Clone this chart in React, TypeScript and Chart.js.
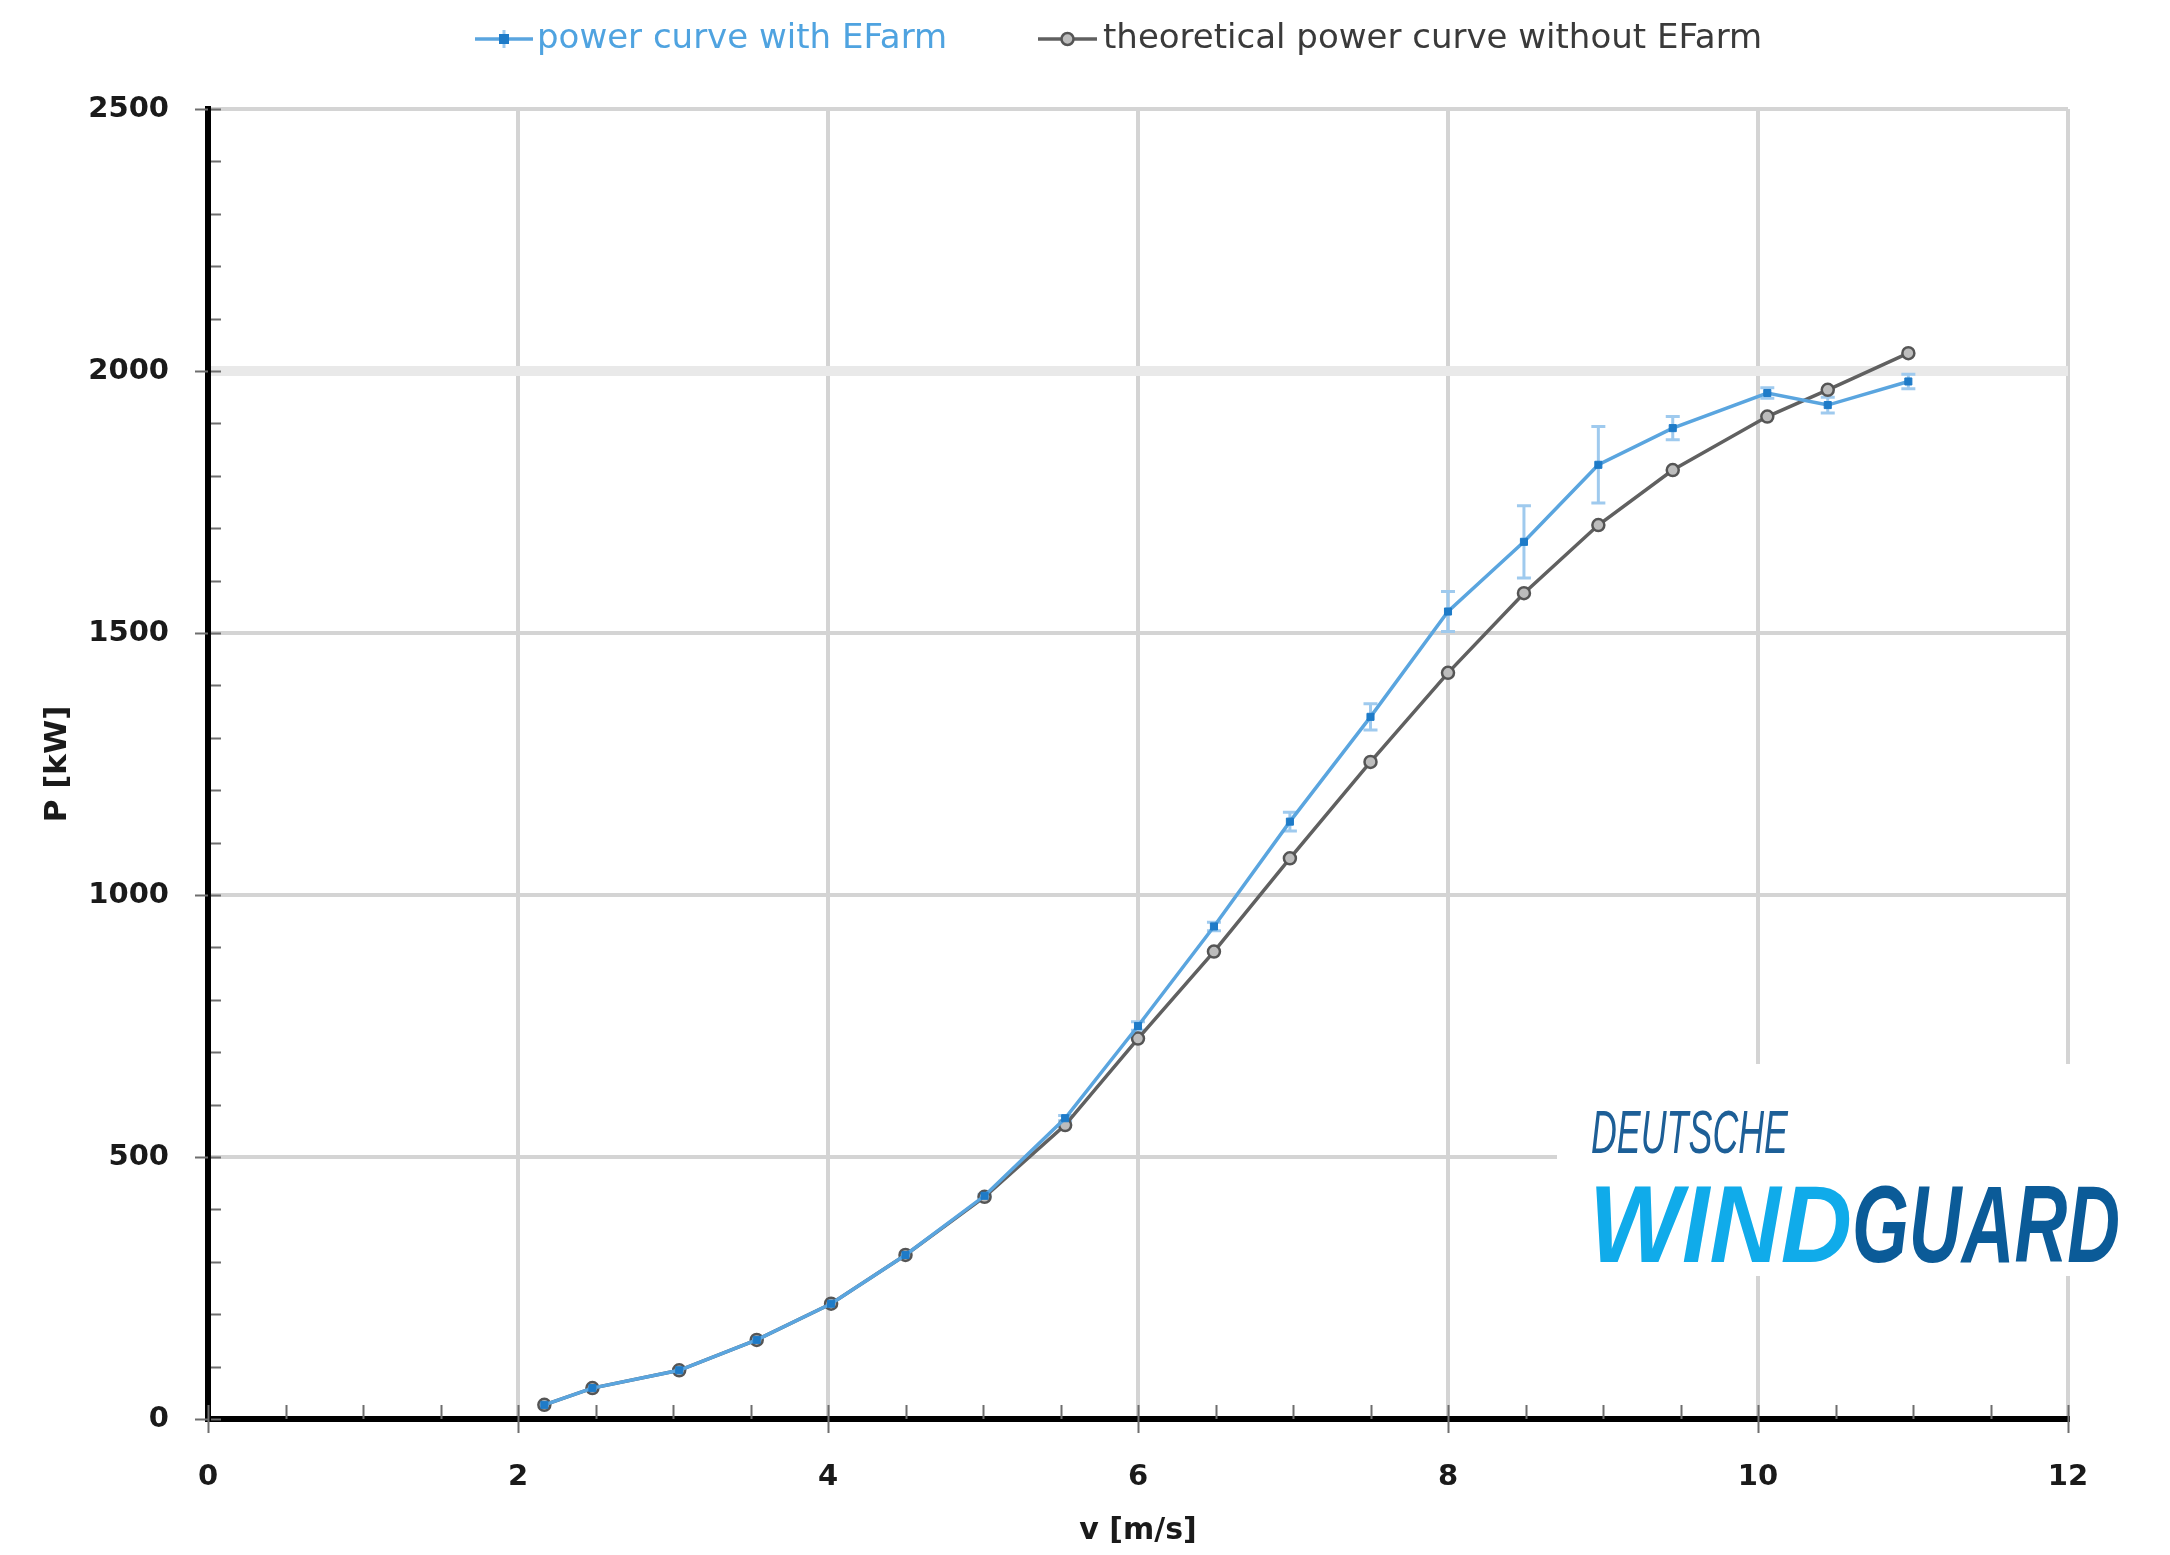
import React, { useEffect, useRef } from "react";
import { Chart, registerables } from "chart.js";

Chart.register(...registerables);

// ---------- data ----------
const windSpeeds = [2.17, 2.48, 3.04, 3.54, 4.02, 4.5, 5.01, 5.53, 6.0, 6.49, 6.98, 7.5, 8.0, 8.49, 8.97, 9.45, 10.06, 10.45, 10.97];
const powerWithEFarm = [27, 59, 93, 151, 220, 313, 426, 574, 750, 940, 1140, 1340, 1541, 1674, 1821, 1891, 1958, 1935, 1980];
const powerErrorWithEFarm = [0, 0, 0, 0, 0, 0, 3, 5, 8, 8, 18, 25, 38, 69, 73, 22, 10, 15, 14];
const powerTheoretical = [27, 59, 93, 151, 220, 313, 424, 561, 726, 892, 1070, 1254, 1424, 1576, 1706, 1811, 1913, 1964, 2034];
const seriesLabels = ["power curve with EFarm", "theoretical power curve without EFarm"];
const xTicks = [0, 2, 4, 6, 8, 10, 12];
const yTicks = [0, 500, 1000, 1500, 2000, 2500];
const xTitle = "v [m/s]";
const yTitle = "P [kW]";
const logoTop = "DEUTSCHE";
const logoWind = "WIND";
const logoGuard = "GUARD";

// ---------- styles ----------
const BLUE_LINE = "#5aa5df";
const BLUE_MARK = "#1e7bc8";
const BLUE_ERR = "#9fcaee";
const GRAY_LINE = "#606060";
const GRAY_MARK = "#555555";
const FONT = "'DejaVu Sans', 'Liberation Sans', sans-serif";

function drawScaledText(ctx: CanvasRenderingContext2D, text: string, x: number, baseline: number, targetW: number, font: string, color: string) {
  ctx.save();
  ctx.font = font;
  ctx.fillStyle = color;
  ctx.textBaseline = "alphabetic";
  ctx.textAlign = "left";
  const w = ctx.measureText(text).width;
  ctx.translate(x, baseline);
  ctx.scale(targetW / w, 1);
  ctx.fillText(text, 0, 0);
  ctx.restore();
}

const decorPlugin = {
  id: "decor",
  beforeDatasetsDraw(chart: any) {
    const ctx: CanvasRenderingContext2D = chart.ctx;
    const xs = chart.scales.x;
    const ys = chart.scales.y;
    ctx.save();
    ctx.strokeStyle = BLUE_ERR;
    ctx.lineWidth = 3;
    windSpeeds.forEach((v, i) => {
      const e = powerErrorWithEFarm[i];
      if (!e) return;
      const px = xs.getPixelForValue(v);
      const y1 = ys.getPixelForValue(powerWithEFarm[i] + e);
      const y2 = ys.getPixelForValue(powerWithEFarm[i] - e);
      ctx.beginPath();
      ctx.moveTo(px, y1);
      ctx.lineTo(px, y2);
      ctx.moveTo(px - 7, y1);
      ctx.lineTo(px + 7, y1);
      ctx.moveTo(px - 7, y2);
      ctx.lineTo(px + 7, y2);
      ctx.stroke();
    });
    ctx.restore();
  },
  afterDraw(chart: any) {
    const ctx: CanvasRenderingContext2D = chart.ctx;
    const xs = chart.scales.x;
    const ys = chart.scales.y;
    const { left, bottom } = chart.chartArea;

    // tick marks
    ctx.save();
    ctx.strokeStyle = "#6e6e6e";
    ctx.lineWidth = 2;
    ctx.beginPath();
    for (let v = 0; v <= 2500; v += 100) {
      const py = Math.round(ys.getPixelForValue(v)) + 0.5;
      ctx.moveTo(left + 3, py);
      ctx.lineTo(left + 13, py);
      if (v % 500 === 0) {
        ctx.moveTo(left - 13, py);
        ctx.lineTo(left, py);
      }
    }
    for (let v = 0; v <= 12; v += 0.5) {
      const px = Math.round(xs.getPixelForValue(v)) + 0.5;
      ctx.moveTo(px, bottom - 14);
      ctx.lineTo(px, bottom);
      if (v % 2 === 0) {
        ctx.moveTo(px, bottom);
        ctx.lineTo(px, bottom + 14);
      }
    }
    ctx.stroke();
    ctx.restore();

    // logo
    ctx.save();
    ctx.fillStyle = "#ffffff";
    ctx.fillRect(1557, 1064, 575, 212);
    ctx.restore();
    drawScaledText(ctx, logoTop, 1591, 1153, 197, `italic 61px 'Liberation Sans', sans-serif`, "#1d5f97");
    drawScaledText(ctx, logoWind, 1589, 1262, 263, `italic bold 110px 'Liberation Sans', sans-serif`, "#10abea");
    drawScaledText(ctx, logoGuard, 1852, 1262, 268, `italic bold 110px 'Liberation Sans', sans-serif`, "#0b5b98");

    // legend
    const legendY = 39;
    const items = [
      { x0: 475, x1: 533, tx: 537, line: BLUE_LINE, mark: BLUE_MARK, text: "#4fa3e0", style: "rect" },
      { x0: 1038, x1: 1097, tx: 1103, line: GRAY_LINE, mark: GRAY_MARK, text: "#3a3a3a", style: "circle" },
    ];
    items.forEach((it, i) => {
      ctx.save();
      ctx.strokeStyle = it.line;
      ctx.lineWidth = 3.5;
      ctx.beginPath();
      ctx.moveTo(it.x0, legendY);
      ctx.lineTo(it.x1, legendY);
      ctx.stroke();
      const cx = (it.x0 + it.x1) / 2;
      if (it.style === "rect") {
        ctx.strokeStyle = BLUE_ERR;
        ctx.lineWidth = 3;
        ctx.beginPath();
        ctx.moveTo(cx, legendY - 9);
        ctx.lineTo(cx, legendY + 9);
        ctx.stroke();
        ctx.fillStyle = it.mark;
        ctx.fillRect(cx - 5, legendY - 5, 10, 10);
      } else {
        ctx.fillStyle = "#bdbdbd";
        ctx.strokeStyle = it.mark;
        ctx.lineWidth = 2.5;
        ctx.beginPath();
        ctx.arc(cx, legendY, 6, 0, Math.PI * 2);
        ctx.fill();
        ctx.stroke();
      }
      ctx.font = `34px ${FONT}`;
      ctx.fillStyle = it.text;
      ctx.textBaseline = "middle";
      ctx.textAlign = "left";
      ctx.fillText(seriesLabels[i], it.tx, legendY);
      ctx.restore();
    });
  },
};

export default function App() {
  const canvasRef = useRef<HTMLCanvasElement | null>(null);

  useEffect(() => {
    const canvas = canvasRef.current;
    if (!canvas) return;
    const chart = new Chart(canvas, {
      type: "line",
      data: {
        datasets: [
          {
            label: seriesLabels[0],
            data: windSpeeds.map((x, i) => ({ x, y: powerWithEFarm[i] })),
            borderColor: BLUE_LINE,
            backgroundColor: BLUE_MARK,
            borderWidth: 3.5,
            pointStyle: "rect",
            pointRadius: 5,
            pointBorderWidth: 1,
            pointBorderColor: BLUE_MARK,
            pointBackgroundColor: BLUE_MARK,
            tension: 0,
            fill: false,
          },
          {
            label: seriesLabels[1],
            data: windSpeeds.map((x, i) => ({ x, y: powerTheoretical[i] })),
            borderColor: GRAY_LINE,
            backgroundColor: "#bdbdbd",
            borderWidth: 3.5,
            pointStyle: "circle",
            pointRadius: 6,
            pointBorderWidth: 2.5,
            pointBorderColor: GRAY_MARK,
            pointBackgroundColor: "#bdbdbd",
            tension: 0,
            fill: false,
          },
        ],
      },
      options: {
        animation: false,
        responsive: false,
        maintainAspectRatio: false,
        devicePixelRatio: 1,
        layout: { padding: { top: 109, right: 102, bottom: 0, left: 0 } },
        plugins: {
          legend: { display: false },
          tooltip: { enabled: false },
        },
        scales: {
          x: {
            type: "linear",
            min: 0,
            max: 12,
            afterBuildTicks: (s: any) => {
              s.ticks = xTicks.map((v) => ({ value: v }));
            },
            afterFit: (s: any) => {
              s.height = 136;
            },
            grid: {
              color: "#d4d4d4",
              lineWidth: 4,
              drawTicks: false,
            },
            border: { display: true, color: "#000000", width: 6 },
            ticks: {
              padding: 41,
              color: "#1a1a1a",
              font: { family: FONT, size: 29, weight: "bold" },
              callback: (v: any) => String(v),
            },
            title: {
              display: true,
              text: xTitle,
              color: "#1a1a1a",
              font: { family: FONT, size: 30, weight: "bold" },
              padding: { top: 0, bottom: 6 },
            },
          },
          y: {
            type: "linear",
            min: 0,
            max: 2500,
            afterBuildTicks: (s: any) => {
              s.ticks = yTicks.map((v) => ({ value: v }));
            },
            afterFit: (s: any) => {
              s.width = 208;
            },
            grid: {
              color: (c: any) => (c.tick && c.tick.value === 2000 ? "#e9e9e9" : "#d4d4d4"),
              lineWidth: (c: any) => (c.tick && c.tick.value === 2000 ? 10 : 4),
              drawTicks: false,
            },
            border: { display: true, color: "#000000", width: 6 },
            ticks: {
              padding: 39,
              color: "#1a1a1a",
              font: { family: FONT, size: 29, weight: "bold" },
              callback: (v: any) => String(v),
            },
            title: {
              display: true,
              text: yTitle,
              color: "#1a1a1a",
              font: { family: FONT, size: 31, weight: "bold" },
              padding: { top: 39, bottom: 0 },
            },
          },
        },
      } as any,
      plugins: [decorPlugin as any],
    });
    return () => chart.destroy();
  }, []);

  return (
    <div style={{ position: "fixed", left: 0, top: 0, width: 2170, height: 1555, background: "#ffffff" }}>
      <canvas ref={canvasRef} width={2170} height={1555} style={{ display: "block", width: 2170, height: 1555 }} />
    </div>
  );
}
